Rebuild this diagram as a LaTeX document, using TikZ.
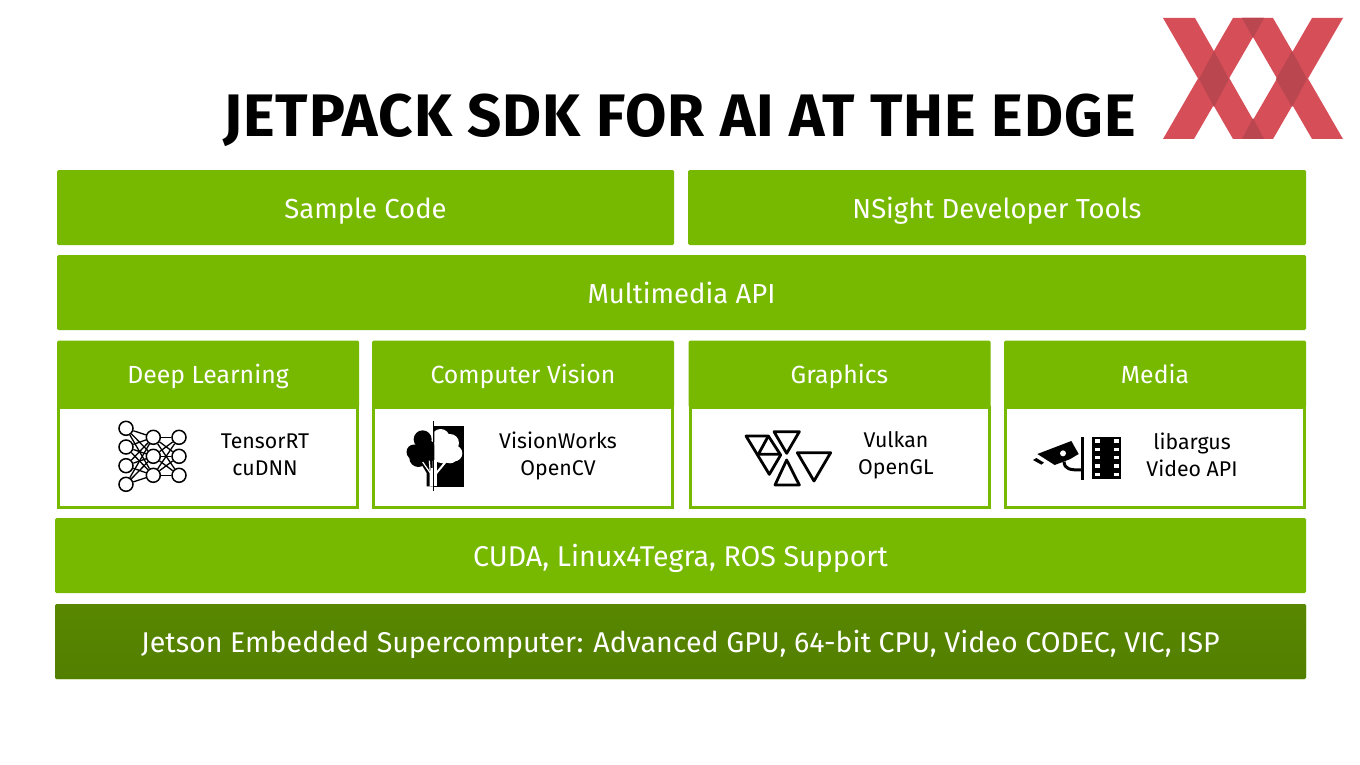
\documentclass[tikz,border=0pt]{standalone}
\usepackage{fontspec}
\setmainfont{Fira Sans}
\definecolor{nvgreen}{RGB}{118,185,0}
\definecolor{nvdark}{RGB}{88,135,0}
\definecolor{logored}{RGB}{214,78,88}
\definecolor{logodark}{RGB}{186,70,80}
\tikzset{
        greenbox/.style={fill=nvgreen, rounded corners=1.5pt, text=white, font=\fontsize{27.5}{30}\selectfont, inner sep=0pt, text height=27pt, text depth=6pt, minimum height=75pt},
        widebox/.style={greenbox, font=\fontsize{28.6}{30}\selectfont, minimum width=1251pt},
        cardhead/.style={fill=nvgreen, rounded corners=1.5pt, text=white, font=\fontsize{24.8}{28}\selectfont, inner sep=0pt, minimum width=302pt, minimum height=67pt, text height=25pt, text depth=6pt},
        cardbody/.style={fill=white, draw=nvgreen, line width=3pt, inner sep=0pt, minimum width=299pt, minimum height=100pt},
        cardtext/.style={align=center, font=\fontsize{21.3}{27}\selectfont, text=black},
        neuron/.style={circle, draw=black, fill=white, line width=1.5pt, minimum size=14pt, inner sep=0pt},
        synapse/.style={draw=black, line width=1.3pt},
        triline/.style={draw=black, line width=2.8pt, line join=round},
}
\begin{document}
\begin{tikzpicture}[x=1pt, y=-1pt]
        \useasboundingbox (0, 0) rectangle (1360, 765);

        \node[anchor=base, font=\fontsize{60}{62}\bfseries\addfontfeatures{LetterSpace=1.75}\selectfont] (title) at (679.5, 136) {JETPACK SDK FOR AI AT THE EDGE};

        \fill[logored] (1163,18) -- (1195,18) -- (1264,139) -- (1233,139) -- cycle;
        \fill[logored] (1163,139) -- (1194,139) -- (1264,18) -- (1233,18) -- cycle;
        \fill[logored] (1242,18) -- (1273,18) -- (1343,139) -- (1312,139) -- cycle;
        \fill[logored] (1242,139) -- (1273,139) -- (1343,18) -- (1312,18) -- cycle;
        \fill[logodark] (1214,51) -- (1229,79) -- (1214,107) -- (1199,79) -- cycle;
        \fill[logodark] (1292,51) -- (1307,79) -- (1292,107) -- (1276,79) -- cycle;
        \fill[logodark] (1242,18) -- (1264,18) -- (1253,38) -- cycle;
        \fill[logodark] (1242,139) -- (1264,139) -- (1253,118) -- cycle;

        \node[greenbox, minimum width=617pt] (sample) at (365.5, 207.5) {Sample Code};
        \node[greenbox, minimum width=618pt] (nsight) at (997, 207.5) {NSight Developer Tools};
        \node[greenbox, minimum width=1249pt] (mmapi) at (681.5, 292.5) {Multimedia API};
        \node[widebox] (cuda) at (680.5, 555.5) {CUDA, Linux4Tegra, ROS Support};
        \node[widebox, top color=nvdark, bottom color=nvdark!94!black] (jetson) at (680.5, 641.5) {Jetson Embedded Supercomputer: Advanced GPU, 64-bit CPU, Video CODEC, VIC, ISP};

        \node[cardbody] (bodya) at (208, 457.5) {};
        \node[cardbody] (bodyb) at (523, 457.5) {};
        \node[cardbody] (bodyc) at (839.5, 457.5) {};
        \node[cardbody] (bodyd) at (1155, 457.5) {};

        \node[cardhead] (heada) at (208, 374) {Deep Learning};
        \node[cardhead] (headb) at (523, 374) {Computer Vision};
        \node[cardhead] (headc) at (839.5, 374) {Graphics};
        \node[cardhead] (headd) at (1155, 374) {Media};

        \node[cardtext] (texta) at (265, 455) {TensorRT\\cuDNN};
        \node[cardtext] (textb) at (558, 456) {VisionWorks\\OpenCV};
        \node[cardtext] (textc) at (896, 455) {Vulkan\\OpenGL};
        \node[cardtext] (textd) at (1192, 455) {libargus\\Video API};

        \foreach \i/\y in {1/428.3, 2/447, 3/465.7, 4/484.3}
                \node[neuron] (ina\i) at (126, \y) {};
        \foreach \i/\y in {1/437.3, 2/456.3, 3/475.3} {
                \node[neuron] (mid\i) at (153.3, \y) {};
                \node[neuron] (out\i) at (179, \y) {};
        }
        \foreach \i in {1, 2, 3, 4}
                \foreach \j in {1, 2, 3}
                        \draw[synapse] (ina\i) -- (mid\j);
        \foreach \i in {1, 2, 3}
                \foreach \j in {1, 2, 3}
                        \draw[synapse] (mid\i) -- (out\j);

        \begin{scope}[shift={(400, 418)}, x=0.3333pt, y=-0.3333pt]
                \fill[black] (102,25) rectangle (193,208);
                \fill[black] (98,10) rectangle (103,218);
                \begin{scope}
                        \clip (0,0) rectangle (99,230);
                        \fill[black] (68,64) circle (9pt);
                        \fill[black] (42,102) circle (7.5pt);
                        \fill[black] (76,100) circle (12pt);
                        \fill[black] (55,120) circle (9pt);
                        \fill[black] (62,135) -- (98,120) -- (98,205) -- (80,205) -- (80,165) -- cycle;
                        \draw[white, line width=1.2pt] (68,132) -- (91,165);
                        \draw[white, line width=1.2pt] (88,128) -- (91,165) -- (91,205);
                        \draw[white, line width=2pt] (95,150) -- (95,205);
                \end{scope}
                \begin{scope}
                        \clip (103,0) rectangle (193,230);
                        \fill[white] (122,60) circle (9pt);
                        \fill[white] (150,75) circle (9pt);
                        \fill[white] (163,106) circle (8pt);
                        \fill[white] (128,100) circle (12pt);
                        \fill[white] (150,112) circle (8pt);
                \end{scope}
                \draw[white, line width=3pt] (107,205) -- (107,125);
                \draw[white, line width=2pt] (107,168) -- (140,128);
        \end{scope}

        \begin{scope}[shift={(740, 425)}, x=0.3333pt, y=-0.3333pt]
                \draw[triline] (18,33) -- (85,33) -- (122,90) -- (88,148) -- cycle;
                \draw[triline] (85,33) -- (55,88) -- (122,88);
                \draw[triline] (102,20) -- (178,20) -- (140,85) -- cycle;
                \draw[triline] (140,105) -- (178,180) -- (105,180) -- cycle;
                \draw[triline] (172,83) -- (272,83) -- (222,168) -- cycle;
        \end{scope}

        \begin{scope}[shift={(1028, 430)}, x=0.3333pt, y=-0.3333pt]
                \fill[black] (28,72) -- (130,33) -- (152,72) -- (125,88) -- (80,105) -- cycle;
                \fill[black] (15,90) -- (25,84) -- (48,98) -- (40,104) -- cycle;
                \fill[white] (105,70) circle (3pt);
                \draw[black, line width=3pt] (162,22) -- (162,150);
                \draw[black, line width=3pt] (108,95) .. controls (110,118) and (125,120) .. (162,120);
                \fill[black] (192,22) rectangle (280,148);
                \foreach \y in {33, 58, 83, 108, 133} {
                        \fill[white] (200,\y-5) rectangle (215,\y+5);
                        \fill[white] (258,\y-5) rectangle (273,\y+5);
                }
        \end{scope}
\end{tikzpicture}
\end{document}
